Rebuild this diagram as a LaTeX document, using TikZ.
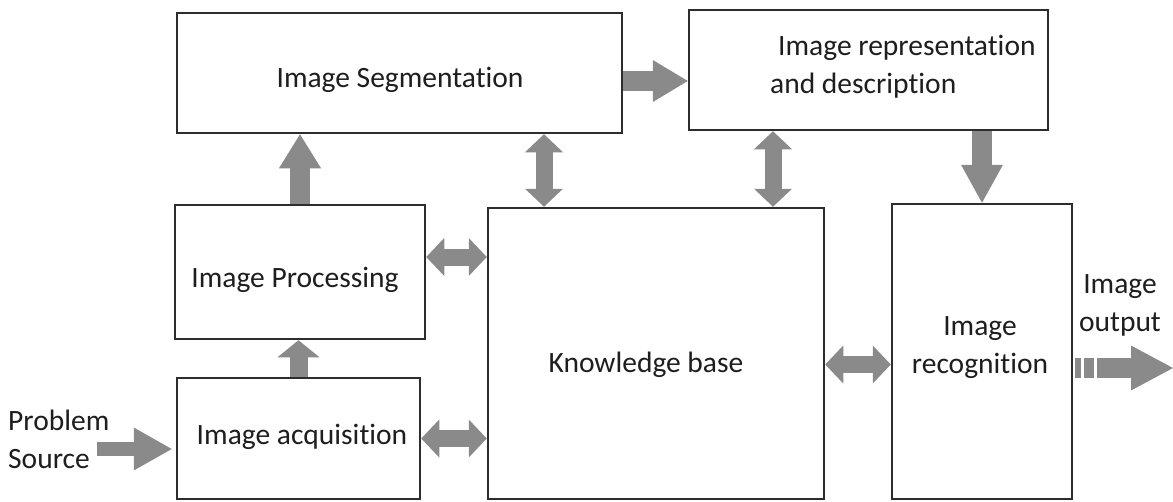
\documentclass[tikz,border=0pt]{standalone}
\usepackage{fontspec}
\setmainfont{Carlito}[Ligatures=NoCommon]
\usetikzlibrary{arrows.meta,calc}
\definecolor{agray}{RGB}{138,138,138}
\definecolor{bline}{RGB}{45,45,45}
\definecolor{tcol}{RGB}{30,30,30}
\begin{document}
\begin{tikzpicture}[x=1pt,y=-1pt,
  box/.style={draw=bline,line width=2.5pt,inner sep=0pt,fill=white},
  lbl/.style={font=\fontsize{29.5}{38}\selectfont,text=tcol,inner sep=0pt},
  fatone/.style={draw=agray,line width=20pt,-{Triangle[length=#1,width=42pt,line width=0pt]}},
  fattwo/.style={draw=agray,line width=17pt,{Triangle[length=18pt,width=38pt,line width=0pt]}-{Triangle[length=18pt,width=38pt,line width=0pt]}}]
\useasboundingbox (0,0) rectangle (1173,501);
\fill[white] (0,0) rectangle (1173,501);
\clip (0,0) rectangle (1173,501);

% boxes
\node[box,minimum width=445pt,minimum height=120pt] (seg) at (399.5,73) {};
\node[box,minimum width=359pt,minimum height=120pt] (rep) at (868.5,70) {};
\node[box,minimum width=250pt,minimum height=134pt] (proc) at (300,272) {};
\node[box,minimum width=243pt,minimum height=121pt] (acq) at (298.5,438.5) {};
\node[box,minimum width=336pt,minimum height=291pt] (kb) at (656,353.5) {};
\node[box,minimum width=180pt,minimum height=295pt] (rec) at (982,351.5) {};

% texts
\node[lbl] (segt) at (400,80) {Image Segmentation};
\node[lbl,anchor=west,align=left] (rept) at (770,67) {\hspace{8pt}Image representation\\and description};
\node[lbl] (proct) at (295,280) {Image Processing};
\node[lbl] (acqt) at (302,437) {Image acquisition};
\node[lbl] (kbt) at (646,365) {Knowledge base};
\node[lbl,align=center] (rect) at (980,348) {Image\\recognition};
\node[lbl,anchor=west,align=left] (src) at (8,439) {Problem\\Source};
\node[lbl,align=center] (outt) at (1120,305) {Image\\output};

% connectors
\draw[fatone=35pt] ([yshift=-8pt]seg.east) -- ([yshift=-8pt]seg.east -| rep.west);
\draw[fatone=34pt] (proc.north) -- (proc.north |- seg.south);
\draw[fatone=17pt,line width=18pt] (acq.north) -- (acq.north |- proc.south);
\draw[fatone=38pt] (rec.north |- rep.south) -- (rec.north);
\draw[fattwo] ([xshift=-112pt]kb.north) -- ([xshift=-112pt]kb.north |- seg.south);
\draw[fattwo] ([xshift=117pt]kb.north) -- ([xshift=117pt]kb.north |- rep.south);
\draw[fattwo] ([yshift=15pt]proc.east) -- ([yshift=15pt]proc.east -| kb.west);
\draw[fattwo] (acq.east) -- (acq.east -| kb.west);
\draw[fattwo] ([yshift=-11pt]kb.east) -- ([yshift=-11pt]kb.east -| rec.west);
\coordinate (srcend) at (97,449);
\draw[draw=agray,line width=14pt,-{Triangle[length=38pt,width=43pt,line width=0pt]}] (srcend) -- ([xshift=-4pt]acq.west |- srcend);
\coordinate (outend) at (1173,368);
\draw[draw=agray,line width=20pt,dash pattern=on 6pt off 3pt on 10pt off 3pt on 200pt,-{Triangle[length=42pt,width=45pt,line width=0pt]}] ([xshift=1.5pt]rec.east |- outend) -- (outend);
\end{tikzpicture}
\end{document}
